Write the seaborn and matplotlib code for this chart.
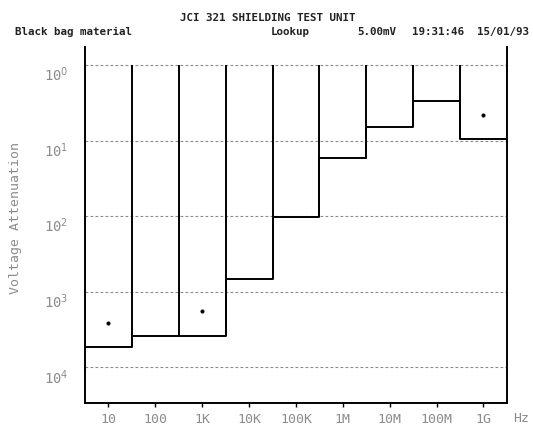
import matplotlib
matplotlib.use('Agg')
import matplotlib.pyplot as plt
import matplotlib.transforms as mtransforms
import seaborn as sns
import pandas as pd
import numpy as np

# Frequency bands (decade centres) and measured attenuation levels
freqs = [1e1, 1e2, 1e3, 1e4, 1e5, 1e6, 1e7, 1e8, 1e9]
freq_labels = ['10', '100', '1K', '10K', '100K', '1M', '10M', '100M', '1G']
levels = [5400, 3800, 3800, 680, 102, 17, 6.6, 3.0, 9.5]

# Flagged readings (asterisks)
flag_freqs = [1e1, 1e3, 1e9]
flag_levels = [2570, 1780, 4.6]

ytick_exp = [0, 1, 2, 3, 4]

sns.set_style('white')
plt.rcParams['font.family'] = ['DejaVu Sans Mono']
plt.rcParams['mathtext.fontset'] = 'dejavusans'

fig = plt.figure(figsize=(5.33, 4.29), dpi=100)
ax = fig.add_axes([0.1595, 0.0606, 0.7915, 0.8298])

# band edges half a decade either side of each centre
half = np.sqrt(10)
edges = [f / half for f in freqs] + [freqs[-1] * half]
step = pd.DataFrame({'x': edges, 'y': levels + [levels[-1]]})

ax.set_xscale('log')
ax.set_yscale('log')

sns.lineplot(data=step, x='x', y='y', drawstyle='steps-post', color='black',
             linewidth=1.4, estimator=None, ax=ax)

# verticals from the 10^0 line down to each band level
vlow = [levels[0]] + [max(levels[i], levels[i + 1]) for i in range(len(levels) - 1)] + [levels[-1]]
ax.vlines(edges, 1, vlow, color='black', linewidth=1.4)

flags = pd.DataFrame({'f': flag_freqs, 'v': flag_levels})
sns.scatterplot(data=flags, x='f', y='v', marker='o', s=7, color='black',
                edgecolor='black', ax=ax)

ax.set_xlim(edges[0], edges[-1])
ax.set_ylim(10 ** 4.47, 10 ** -0.24)

# dashed decade gridlines
for k in ytick_exp:
    ax.axhline(10 ** k, color='#8a8a8a', linestyle=(0, (2.5, 2)), linewidth=0.8, zorder=0)

ax.set_yticks([10 ** k for k in ytick_exp])
ax.set_yticklabels([f'10$^{{{k}}}$' for k in ytick_exp], color='#8c8c8c', fontsize=10)
ax.yaxis.set_minor_locator(matplotlib.ticker.NullLocator())
ax.tick_params(axis='y', length=0, pad=12)
offset = mtransforms.ScaledTranslation(0, -6 / 72, fig.dpi_scale_trans)
for lab in ax.get_yticklabels():
    lab.set_transform(lab.get_transform() + offset)

ax.set_xticks(freqs)
ax.set_xticklabels(freq_labels, color='#8c8c8c', fontsize=9.5)
ax.xaxis.set_minor_locator(matplotlib.ticker.NullLocator())
ax.tick_params(axis='x', length=3, width=1, color='black', pad=4, bottom=True)

ax.set_xlabel('')
ax.set_ylabel('Voltage Attenuation', color='#8c8c8c', fontsize=9.5, labelpad=12)
ax.yaxis.set_label_coords(-0.15, 0.52)

ax.spines['top'].set_visible(False)
for s in ['left', 'right', 'bottom']:
    ax.spines[s].set_color('black')
    ax.spines[s].set_linewidth(1.4)

fig.text(513 / 533, 1 - 419 / 429, 'Hz', color='#8c8c8c', fontsize=9.5, va='center')

hdr = dict(fontsize=7.8, fontweight='bold', color='#222222', va='center')
fig.text(0.503, 1 - 18 / 429, 'JCI 321 SHIELDING TEST UNIT', ha='center', **hdr)
fig.text(15 / 533, 1 - 32 / 429, 'Black bag material', **hdr)
fig.text(271 / 533, 1 - 32 / 429, 'Lookup', **hdr)
fig.text(357 / 533, 1 - 32 / 429, '5.00mV', **hdr)
fig.text(412 / 533, 1 - 32 / 429, '19:31:46', **hdr)
fig.text(477 / 533, 1 - 32 / 429, '15/01/93', **hdr)

fig.savefig('out.png', dpi=100)
